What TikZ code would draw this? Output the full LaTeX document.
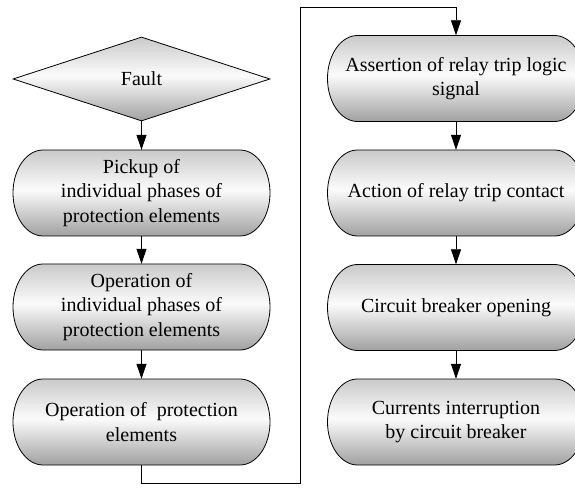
\documentclass[tikz,border=0pt]{standalone}
\usepackage{fontspec}
\setmainfont{Liberation Serif}
\usetikzlibrary{arrows.meta,shapes.geometric}

% vertical grey gradient: darker bottom, near-white a little above the middle, light grey top
\pgfdeclareverticalshading{boxgrad}{100bp}{%
  color(0bp)=(gray!74); color(25bp)=(gray!74);
  color(52bp)=(white!97!gray);
  color(75bp)=(gray!42); color(100bp)=(gray!42)}

\tikzset{
  boxshape/.style={shading=boxgrad, draw=black, line width=0.8pt},
  boxtext/.style={shape=rectangle, minimum width=257pt, minimum height=86pt,
    inner sep=0pt, align=center, font=\fontsize{20}{24.5}\selectfont},
  decision/.style={shape=diamond, shading=boxgrad, draw=black, line width=0.8pt,
    minimum width=257pt, minimum height=84pt, inner sep=0pt,
    font=\fontsize{20}{24.5}\selectfont},
  flow/.style={draw=black, line width=0.8pt, -{Triangle[length=15pt,width=10pt]}},
  link/.style={draw=black, line width=0.8pt}
}

% stadium with elliptical ends, then a named text node on top of it
\newcommand{\flowstep}[4]{%
  \path[boxshape, shift={(#2,#3)}]
    (-98.5,43) -- (98.5,43)
    arc[start angle=90, end angle=-90, x radius=30, y radius=43]
    -- (-98.5,-43)
    arc[start angle=270, end angle=90, x radius=30, y radius=43]
    -- cycle;
  \node[boxtext] (#1) at (#2,#3) {#4};}

\begin{document}
\begin{tikzpicture}[x=1pt, y=1pt]
\useasboundingbox (0,0) rectangle (575,493);

% left column
\node[decision] (fault) at (141.5,414) {Fault};
\flowstep{pickup}{141.5}{300}{Pickup of\\individual phases of\\protection elements}
\flowstep{opphase}{141.5}{186}{Operation of\\individual phases of\\protection elements}
\flowstep{opelem}{141.5}{71}{Operation of~ protection\\elements}

% right column
\flowstep{assert}{456}{414.5}{Assertion of relay trip logic\\signal}
\flowstep{action}{456}{300}{Action of relay trip contact}
\flowstep{cbopen}{456}{185.5}{Circuit breaker opening}
\flowstep{interrupt}{456}{71}{Currents interruption\\by circuit breaker}

% connectors
\draw[flow] (fault.south) -- (pickup.north);
\draw[flow] (pickup.south) -- (opphase.north);
\draw[flow] (opphase.south) -- (opelem.north);

\coordinate (lowturn) at (300,10);
\coordinate (highturn) at (300,486);
\draw[link] (opelem.south) |- (lowturn) -- (highturn);
\draw[flow] (highturn) -| (assert.north);

\draw[flow] (assert.south) -- (action.north);
\draw[flow] (action.south) -- (cbopen.north);
\draw[flow] (cbopen.south) -- (interrupt.north);
\end{tikzpicture}
\end{document}
